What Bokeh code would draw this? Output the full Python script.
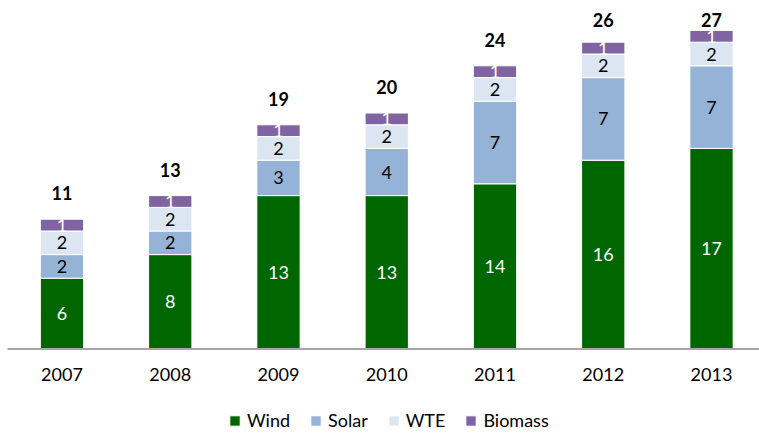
from bokeh.plotting import figure
from bokeh.models import ColumnDataSource, Range1d, Legend, LegendItem
from bokeh.core.properties import value
from bokeh.embed import file_html
from bokeh.resources import INLINE

years = ["2007", "2008", "2009", "2010", "2011", "2012", "2013"]
wind = [6, 8, 13, 13, 14, 16, 17]
solar = [2, 2, 3, 4, 7, 7, 7]
wte = [2, 2, 2, 2, 2, 2, 2]
biomass = [1, 1, 1, 1, 1, 1, 1]
totals = [11, 13, 19, 20, 24, 26, 27]

series_names = ["Wind", "Solar", "WTE", "Biomass"]
series_values = [wind, solar, wte, biomass]
colors = ["#006600", "#95b3d7", "#dce6f2", "#8064a2"]
label_colors = ["white", "black", "black", "white"]

FONT = "Lato"
W, H = 759, 433
PPU_Y = 11.8          # pixels per unit on y
PPU_X = 108.25        # pixels per category
BASE_PX = 348.5       # baseline, px from top
FIRST_PX = 61.5       # centre of first bar, px from left

xs = list(range(len(years)))
x0 = -FIRST_PX / PPU_X
y0 = -(H - BASE_PX) / PPU_Y
p = figure(width=W, height=H, output_backend="svg", toolbar_location=None,
           x_range=Range1d(x0, x0 + W / PPU_X),
           y_range=Range1d(y0, y0 + H / PPU_Y),
           min_border=0)
p.outline_line_color = None
p.grid.visible = False
p.axis.visible = False
p.background_fill_color = "white"
p.border_fill_color = "white"

items = []
bottoms = [0] * len(years)
for name, vals, col, lc in zip(series_names, series_values, colors, label_colors):
    tops = [b + v for b, v in zip(bottoms, vals)]
    src = ColumnDataSource(dict(x=xs, bottom=bottoms, top=tops,
                                mid=[(b + t) / 2 for b, t in zip(bottoms, tops)],
                                lab=[str(v) for v in vals]))
    r = p.vbar(x="x", bottom="bottom", top="top", width=0.40, source=src,
               fill_color=col, line_color="white", line_width=1)
    items.append(LegendItem(label=name, renderers=[r]))
    p.text(x="x", y="mid", text="lab", source=src, text_align="center",
           text_baseline="middle", text_color=lc, text_font=value(FONT),
           text_font_size="18px")
    bottoms = tops

# category axis line
p.segment(x0=[x0 + 7 / PPU_X], x1=[len(years)], y0=[0], y1=[0],
          line_color="#a6a6a6", line_width=2)

# category labels
ysrc = ColumnDataSource(dict(x=xs, y=[-25.5 / PPU_Y] * len(xs), lab=years))
p.text(x="x", y="y", text="lab", source=ysrc, text_align="center",
       text_baseline="middle", text_color="black", text_font=value(FONT),
       text_font_size="18px")

# totals
max_label_y = (BASE_PX - 19) / PPU_Y
tsrc = ColumnDataSource(dict(x=xs, y=[min(t + 26 / PPU_Y, max_label_y) for t in totals],
                             lab=[str(t) for t in totals]))
p.text(x="x", y="y", text="lab", source=tsrc, text_align="center",
       text_baseline="middle", text_color="black", text_font=value(FONT),
       text_font_size="18px", text_font_style="bold")

legend = Legend(items=items, orientation="horizontal", location=(228, 2),
                glyph_width=13, glyph_height=13, label_height=16,
                label_standoff=6, spacing=19,
                label_text_font=FONT, label_text_font_size="18px",
                label_text_color="black", border_line_color=None,
                background_fill_alpha=0, padding=0, margin=0)
p.add_layout(legend, "center")

open("out.html", "w").write(file_html(p, INLINE))
